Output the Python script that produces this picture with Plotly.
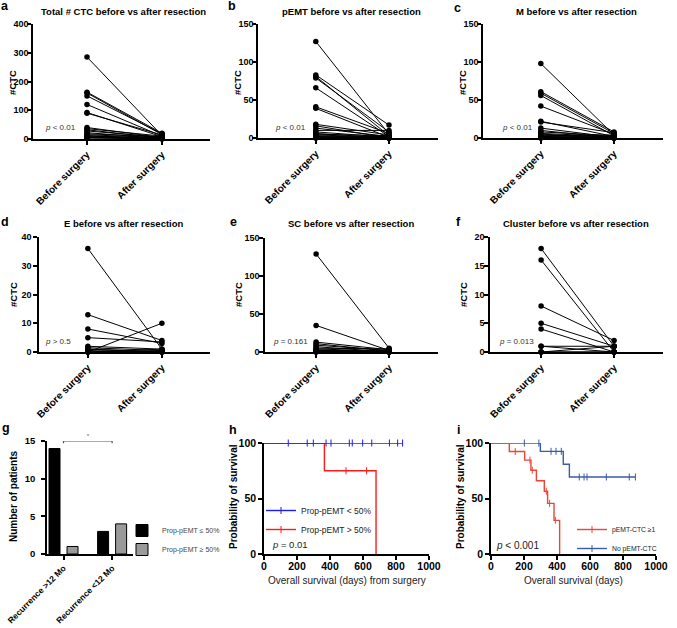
import plotly.graph_objects as go

W, H = 677, 628
FONT = "Liberation Sans, Arial, sans-serif"

# ---------------- data ----------------
cats = ["Before surgery", "After surgery"]

total_before = [285, 163, 160, 150, 120, 92, 90, 40, 36, 32, 28, 22, 18, 15, 12, 10, 8, 6, 5, 3]
total_after = [12, 20, 15, 18, 10, 8, 14, 5, 10, 3, 6, 2, 8, 4, 1, 3, 2, 5, 0, 1]

pemt_before = [127, 83, 81, 79, 66, 41, 39, 18, 16, 13, 10, 8, 6, 5, 3, 2, 1, 0, 0, 4]
pemt_after = [5, 17, 3, 8, 2, 6, 1, 4, 0, 2, 10, 1, 0, 3, 0, 1, 0, 2, 0, 1]

m_before = [98, 61, 59, 56, 42, 22, 21, 13, 10, 8, 6, 5, 4, 3, 2, 1, 0, 0, 1, 2]
m_after = [4, 8, 6, 3, 5, 2, 7, 1, 0, 3, 2, 1, 0, 4, 0, 1, 0, 2, 0, 1]

e_before = [36, 13, 8, 5, 0, 2, 1.5, 1, 0.5, 0, 0, 1, 0]
e_after = [1, 4, 3, 3.5, 10, 1, 0.5, 0, 0, 0.5, 0, 0, 1]

sc_before = [129, 35, 13, 11, 9, 7, 5, 4, 3, 2, 1, 0, 0, 2, 1]
sc_after = [5, 2, 3, 1, 2, 0, 4, 1, 0, 1, 0, 0, 2, 0, 1]

cl_before = [18, 16, 8, 5, 4, 1, 1, 0, 0, 0]
cl_after = [1, 0, 2, 1, 0, 0, 1, 1, 0, 0]

rec_cats = ["Recurrence >12 Mo", "Recurrence <12 Mo"]
prop_low = [14, 3]
prop_high = [1, 4]

# KM panel h
h_low_t = [0, 840]
h_low_s = [100, 100]
h_low_cens = [147, 262, 299, 376, 406, 517, 535, 598, 653, 760, 810, 840]
h_high_t = [0, 366, 679]
h_high_s = [100, 75, 0]
h_high_cens = [497, 622]

# KM panel i
i_pos_t = [0, 111, 204, 242, 275, 323, 343, 382, 416]
i_pos_s = [100, 92.3, 84.6, 75.4, 66.0, 56.5, 45.6, 30.3, 0]
i_pos_cens = [147, 236, 250, 335, 355, 390]
i_neg_t = [0, 299, 438, 475, 875]
i_neg_s = [100, 92.5, 80.8, 69.4, 69.4]
i_neg_cens = [202, 290, 364, 394, 426, 535, 564, 582, 699, 838, 875]


# ---------------- helpers ----------------
def fx(p):
    return p / W


def fy(p):
    return 1 - p / H


def step_at(t, times, surv):
    val = surv[0]
    for tt, ss in zip(times, surv):
        if tt <= t:
            val = ss
    return val


def paired(before, after):
    xs, ys = [], []
    for b, a in zip(before, after):
        xs += [0, 1, None]
        ys += [b, a, None]
    return xs, ys


def tickfont(size=9):
    return dict(family=FONT, size=size, color="black", weight="bold")


def axis(dom, rng, anchor, **kw):
    d = dict(domain=dom, range=rng, anchor=anchor, showline=True, linecolor="black",
             linewidth=1.5, ticks="outside", ticklen=4, tickwidth=1.5, tickcolor="black",
             showgrid=False, zeroline=False, tickfont=tickfont(), fixedrange=True,
             automargin=False)
    d.update(kw)
    return d


def note(text, px, py, size, color="black", bold=False, xanchor="center", angle=0):
    f = dict(family=FONT, size=size, color=color)
    if bold:
        f["weight"] = "bold"
    return dict(text=text, x=fx(px), y=fy(py), xref="paper", yref="paper", showarrow=False,
                xanchor=xanchor, yanchor="middle", textangle=angle, font=f)


fig = go.Figure()
layout = {}
annotations = []

# ---------------- panels a-f ----------------
pair_panels = [
    ("a", total_before, total_after, (33, 210), (24, 139), (-0.72, 1.64), 400, 100, -3,
     "Total # CTC before vs after resection", 124, 11, (5, 6), "<i>p</i> < 0.01", (43, 127), (12, 83)),
    ("b", pemt_before, pemt_after, (258, 438), (24, 138), (-0.79, 1.67), 150, 50, -3,
     "pEMT before vs after resection", 351, 11, (232, 6), "<i>p</i> < 0.01", (273, 127), (237, 83)),
    ("c", m_before, m_after, (483, 663), (24, 138), (-0.79, 1.67), 150, 50, -3,
     "M before vs after resection", 576, 11, (457, 8), "<i>p</i> < 0.01", (500, 127), (462, 83)),
    ("d", e_before, e_after, (39, 210), (237, 352), (-0.66, 1.65), 40, 10, 0,
     "E before vs after resection", 124, 224, (5, 222), "<i>p</i> > 0.5", (43, 341), (13, 295)),
    ("e", sc_before, sc_after, (265, 438), (238, 352), (-0.70, 1.67), 150, 50, -2,
     "SC before vs after resection", 351, 224, (233, 222), "<i>p</i> = 0.161", (271, 341), (238, 295)),
    ("f", cl_before, cl_after, (490, 663), (237, 352), (-0.70, 1.67), 20, 5, -2,
     "Cluster before vs after resection", 576, 224, (458, 222), "<i>p</i> = 0.013", (497, 341), (463, 295)),
]

for k, (lab, bef, aft, xp, yp, xr, ymax, dt, stand, title, tcx, tcy, lpos, ptxt, ppos, ytpos) in enumerate(pair_panels, start=1):
    sx = "" if k == 1 else str(k)
    xs, ys = paired(bef, aft)
    fig.add_trace(go.Scatter(x=xs, y=ys, mode="lines+markers", xaxis="x" + sx, yaxis="y" + sx,
                             line=dict(color="black", width=1),
                             marker=dict(color="black", size=5.5), cliponaxis=False,
                             showlegend=False, hoverinfo="skip"))
    layout["xaxis" + sx] = axis([fx(xp[0]), fx(xp[1])], list(xr), "y" + sx,
                                tickvals=[0, 1], ticktext=cats, tickangle=-45,
                                tickfont=tickfont(10))
    layout["yaxis" + sx] = axis([fy(yp[1]), fy(yp[0])], [0, ymax], "x" + sx,
                                tick0=0, dtick=dt, ticklabelstandoff=stand)
    annotations.append(note(title, tcx, tcy, 9.5, bold=True))
    annotations.append(note(lab, lpos[0], lpos[1], 12.5, bold=True))
    annotations.append(note(ptxt, ppos[0], ppos[1], 8, color="#333", xanchor="left"))
    annotations.append(note("#CTC", ytpos[0], ytpos[1], 9.5, bold=True, angle=-90))

# ---------------- panel g ----------------
fig.add_trace(go.Bar(x=[0, 1], y=prop_low, name="Prop-pEMT ≤ 50%", xaxis="x7", yaxis="y7",
                     marker=dict(color="black", line=dict(color="black", width=1)),
                     legend="legend", hoverinfo="skip"))
fig.add_trace(go.Bar(x=[0, 1], y=prop_high, name="Prop-pEMT ≥ 50%", xaxis="x7", yaxis="y7",
                     marker=dict(color="#9a9a9a", line=dict(color="black", width=1)),
                     legend="legend", hoverinfo="skip"))
layout["xaxis7"] = axis([fx(47), fx(133)], [-0.34, 1.43], "y7", tickvals=[0, 1],
                        ticktext=rec_cats, tickangle=-45, tickfont=tickfont(8.5))
layout["yaxis7"] = axis([fy(554), fy(441)], [0, 15], "x7", tick0=0, dtick=5,
                        ticklabelstandoff=4, tickfont=tickfont(9.5))
annotations.append(note("g", 6, 428, 12.5, bold=True))
annotations.append(note("Number of patients", 13, 496, 10, bold=True, angle=-90))
annotations.append(dict(text="*", x=0.5, y=15, xref="x7", yref="y7", showarrow=False,
                        xanchor="center", yanchor="bottom",
                        font=dict(family=FONT, size=5, color="#333")))
shapes = [dict(type="path", xref="x7", yref="y7",
               path="M 0,14.7 L 0,15 L 1,15 L 1,14.7",
               line=dict(color="#555", width=1.2))]

# ---------------- panels h, i ----------------
km = [
    ("8", h_high_t, h_high_s, h_high_cens, "#ff1a1a", "Prop-pEMT > 50%", "legend2", 2),
    ("8", h_low_t, h_low_s, h_low_cens, "#1a1aff", "Prop-pEMT < 50%", "legend2", 1),
    ("9", i_neg_t, i_neg_s, i_neg_cens, "#3b5ba9", "No pEMT-CTC", "legend3", 2),
    ("9", i_pos_t, i_pos_s, i_pos_cens, "#ee4438", "pEMT-CTC ≥1", "legend3", 1),
]
for sx, tt, ss, cens, col, name, leg, rank in km:
    fig.add_trace(go.Scatter(x=tt, y=ss, mode="lines", line=dict(color=col, width=1.4, shape="hv"),
                             xaxis="x" + sx, yaxis="y" + sx, showlegend=False, cliponaxis=False,
                             hoverinfo="skip"))
    fig.add_trace(go.Scatter(x=cens, y=[step_at(c, tt, ss) for c in cens], mode="markers",
                             marker=dict(symbol="line-ns", size=5, color=col,
                                         line=dict(color=col, width=1)),
                             xaxis="x" + sx, yaxis="y" + sx, showlegend=False, cliponaxis=False,
                             hoverinfo="skip"))
    fig.add_trace(go.Scatter(x=[None], y=[None], mode="lines+markers", name=name,
                             line=dict(color=col, width=1.4),
                             marker=dict(symbol="line-ns", size=5, color=col,
                                         line=dict(color=col, width=1)),
                             xaxis="x" + sx, yaxis="y" + sx, legend=leg, legendrank=rank))

for sx, xp in (("8", (264, 429)), ("9", (491, 656))):
    layout["xaxis" + sx] = axis([fx(xp[0]), fx(xp[1])], [0, 1000], "y" + sx, tick0=0, dtick=200,
                                tickfont=tickfont(10.5), ticklabelstandoff=-2)
    layout["yaxis" + sx] = axis([fy(554), fy(443)], [0, 100], "x" + sx, tick0=0, dtick=50,
                                tickfont=tickfont(10.5))

annotations += [
    note("h", 233, 430, 12.5, bold=True),
    note("i", 458, 430, 12.5, bold=True),
    note("Probability of survival", 233, 497, 10, bold=True, angle=-90),
    note("Probability of survival", 460, 497, 10, bold=True, angle=-90),
    note("Overall survival (days) from surgery", 347, 580, 10, color="#222"),
    note("Overall survival (days)", 573, 580, 10, color="#222"),
    note("<i>p</i> = 0.01", 270, 544, 9.5, color="#222", xanchor="left"),
    note("<i>p</i> < 0.001", 494, 545, 10, color="#222", xanchor="left"),
]

fig.update_layout(
    template="none",
    width=W, height=H, margin=dict(l=0, r=0, t=0, b=0, autoexpand=False),
    paper_bgcolor="white", plot_bgcolor="white",
    font=dict(family=FONT, color="black"),
    barmode="group", bargap=0.258, bargroupgap=0.39,
    annotations=annotations, shapes=shapes,
    legend=dict(x=fx(122), y=fy(540), xanchor="left", yanchor="middle",
                font=dict(family=FONT, size=7, color="#444"), bgcolor="rgba(0,0,0,0)",
                tracegroupgap=0, itemwidth=30),
    legend2=dict(x=fx(261), y=fy(520), xanchor="left", yanchor="middle",
                 font=dict(family=FONT, size=8.5, color="#222"), bgcolor="rgba(0,0,0,0)",
                 itemwidth=30),
    legend3=dict(x=fx(572), y=fy(539), xanchor="left", yanchor="middle",
                 font=dict(family=FONT, size=6.8, color="#222"), bgcolor="rgba(0,0,0,0)",
                 itemwidth=30),
    **layout,
)

fig.write_html("out.html", config={"displayModeBar": False},
               post_script="document.body.style.margin='0px';")
